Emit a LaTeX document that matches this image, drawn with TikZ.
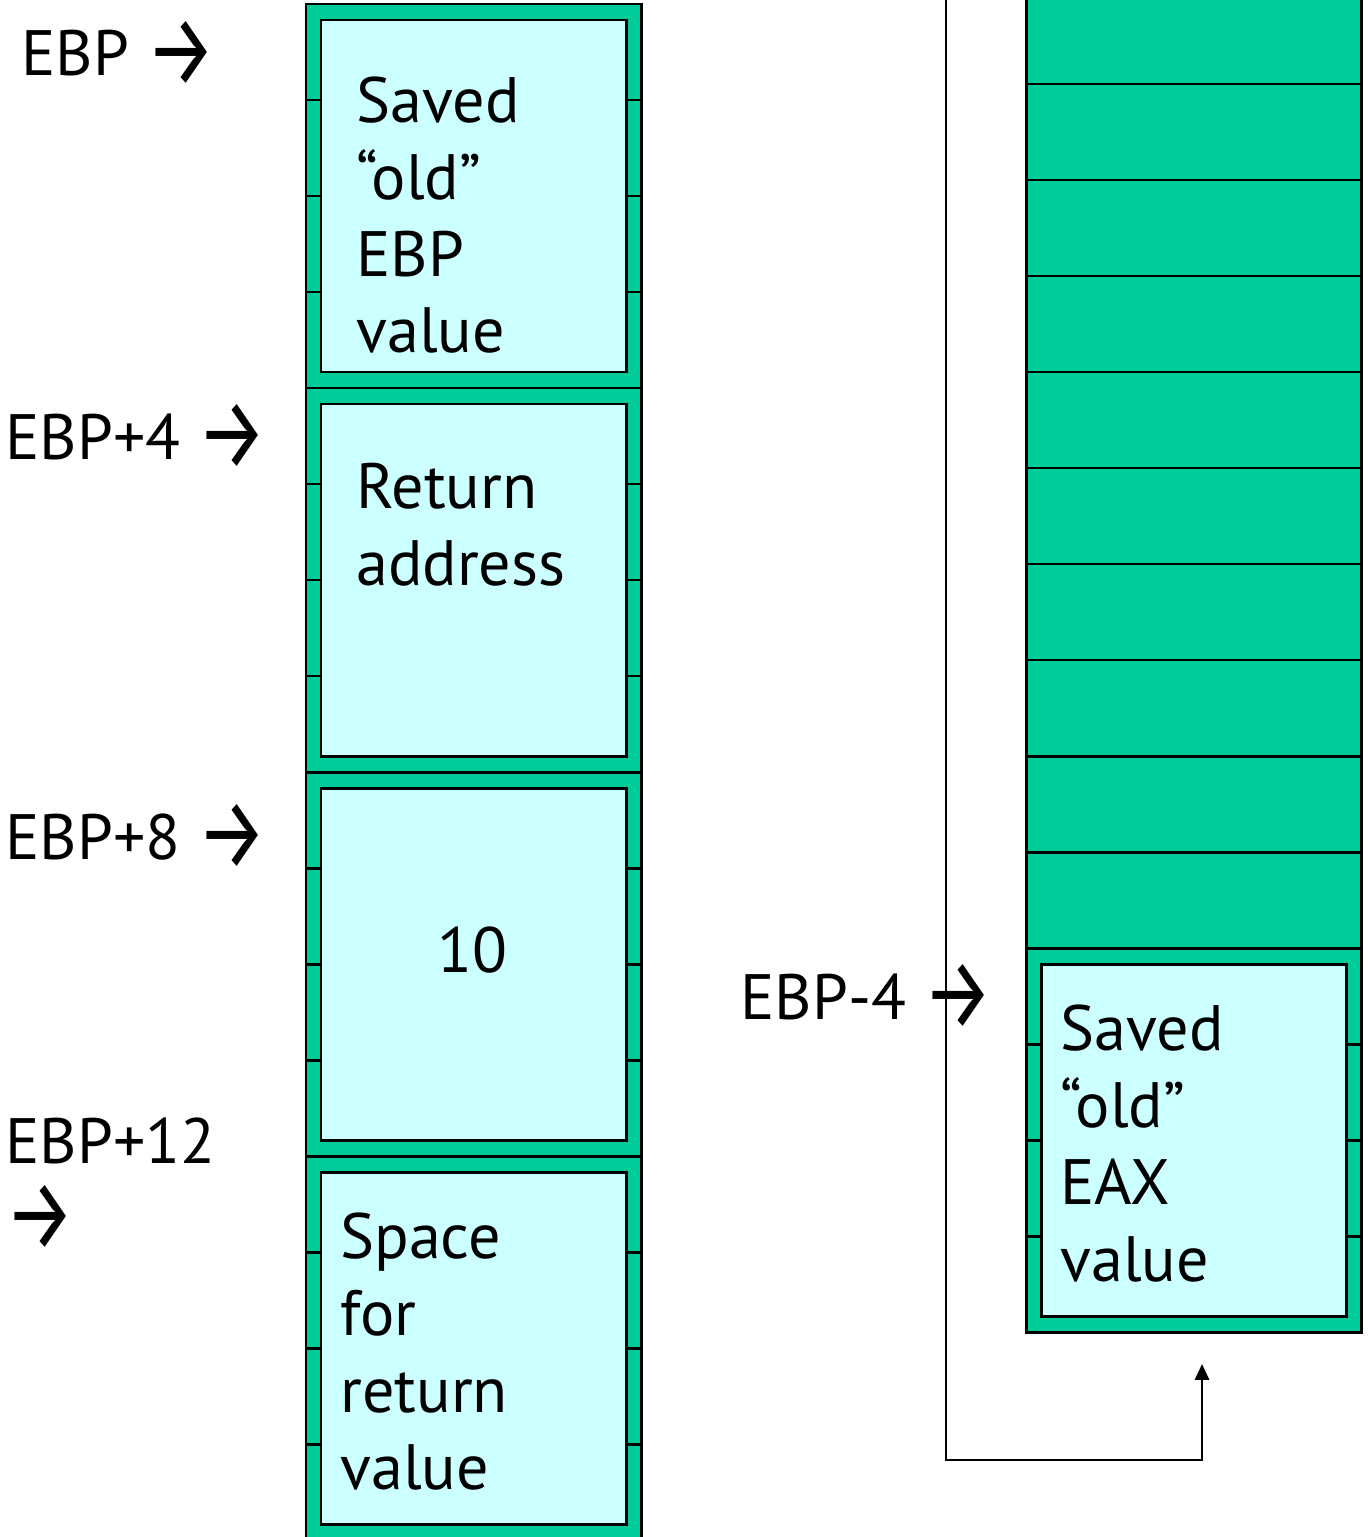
\documentclass[tikz,border=0pt]{standalone}
\usepackage{fontspec}
\usepackage{graphicx}
\setmainfont{PT Sans}
\newfontfamily\arrowfont{Fira Sans}
\usetikzlibrary{arrows.meta}
\definecolor{stackgreen}{RGB}{0,204,153}
\definecolor{slotcyan}{RGB}{204,255,255}
% pointer arrow glyph, stretched a little upward and set near the baseline
\newcommand{\ptr}{\raisebox{-5.5pt}{\scalebox{1}[1.3]{\fontsize{44}{44}\selectfont\arrowfont →}}}

\begin{document}
\begin{tikzpicture}[x=0.02cm,y=-0.02cm,
  cellbox/.style={fill=stackgreen,draw=black,line width=1.7pt},
  slotbox/.style={fill=slotcyan,draw=black,line width=1.7pt},
  txt/.style={font=\fontsize{36.5}{43.7}\selectfont,inner sep=0pt,anchor=base west,align=left},
  link/.style={draw=black,line width=1.4pt}]

\path[use as bounding box,clip] (0,0) rectangle (1368,1537);

% left stack: sixteen 4-byte cells, grouped by four
\foreach \i in {0,...,15}
  \draw[cellbox] (306,{4+96*\i}) rectangle (641,{100+96*\i});
\foreach \g in {0,...,3}
  \draw[slotbox] (321,{20+384*\g}) rectangle (626,{372+384*\g});

% right stack: free cells above the saved register
\foreach \i in {0,...,13}
  \draw[cellbox] (1026,{-12+96*\i}) rectangle (1361,{84+96*\i});
\draw[slotbox] (1041,964) rectangle (1346,1316);

% slot contents (a multi-line node sits on the baseline of its last line)
\node[txt] (oldebp) at (356,353) {Saved\\“old”\\EBP\\value};
\node[txt] (retaddr) at (356,585) {Return\\address};
\node[txt,anchor=base] (arg) at (472,972) {10};
\node[txt] (retval) at (340,1489) {Space\\for\\return\\value};
\node[txt] (oldeax) at (1060,1281) {Saved\\“old”\\EAX\\value};

% frame-pointer offsets
\node[txt] (ebp) at (21,76) {EBP \ptr};
\node[txt] (ebp4) at (5,459) {EBP+4 \ptr};
\node[txt] (ebp8) at (5,859) {EBP+8 \ptr};
\node[txt] (ebp12) at (5,1240) {EBP+12\\\ptr};
\node[txt] (ebpm4) at (740,1019) {EBP-4 \ptr};

% continuation of the stack into the right column
\coordinate (loopTop) at (946,-20);
\coordinate (loopBase) at (1202,1460);
\coordinate (loopEnd) at (1202,1364);
\draw[link,-{Triangle[length=9pt,width=8pt]}] (loopTop) |- (loopBase) -- (loopEnd);
\end{tikzpicture}
\end{document}
